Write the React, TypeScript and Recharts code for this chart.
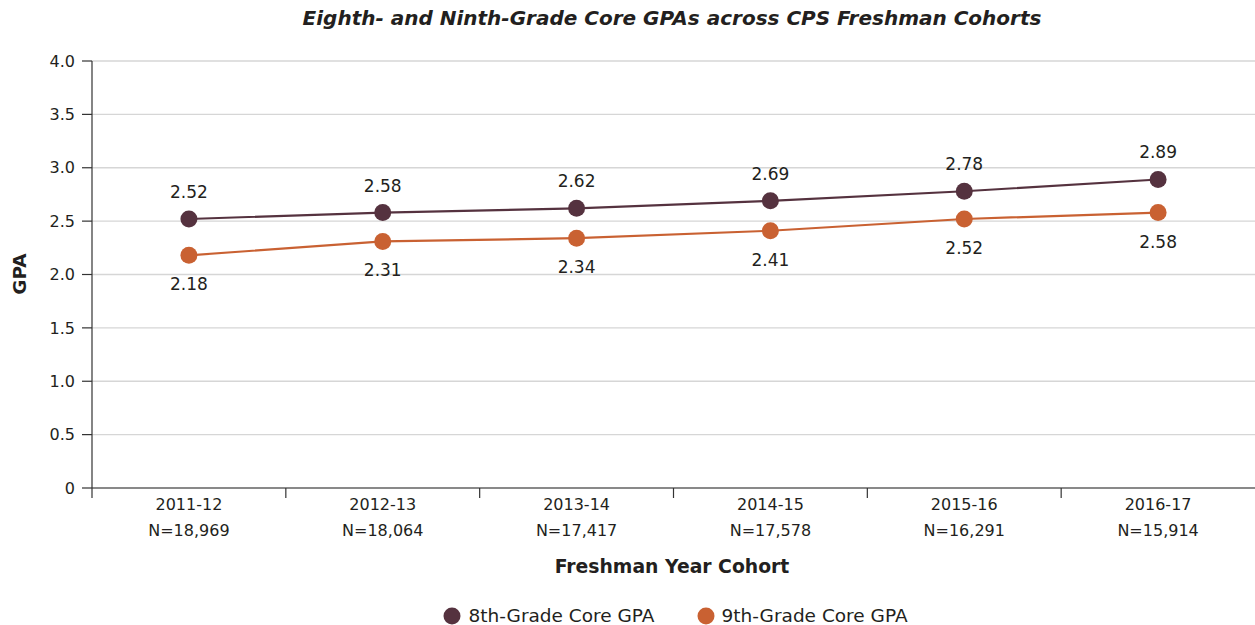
import { LineChart, Line, XAxis, YAxis, CartesianGrid, LabelList, Legend } from 'recharts';

const cohorts = ['2011-12', '2012-13', '2013-14', '2014-15', '2015-16', '2016-17'];
const cohortSizes = ['N=18,969', 'N=18,064', 'N=17,417', 'N=17,578', 'N=16,291', 'N=15,914'];
const eighthGpa = [2.52, 2.58, 2.62, 2.69, 2.78, 2.89];
const ninthGpa = [2.18, 2.31, 2.34, 2.41, 2.52, 2.58];
const yTicks = [0, 0.5, 1, 1.5, 2, 2.5, 3, 3.5, 4];

const W = 1255;
const H = 625;
const Y_AXIS_W = 92;
const FONT = '"DejaVu Sans", sans-serif';
const TEXT = '#231f20';
const MAROON = '#55323f';
const ORANGE = '#c96132';

const chartData = cohorts.map((cohort, i) => ({
  cohort,
  n: cohortSizes[i],
  eighth: eighthGpa[i],
  ninth: ninthGpa[i],
}));

const series = [
  { key: 'eighth', name: '8th-Grade Core GPA', color: MAROON },
  { key: 'ninth', name: '9th-Grade Core GPA', color: ORANGE },
];

// two-line category tick, with the tick mark drawn on the band's left edge
const CohortTick = ({ x, y, payload, index }: any) => {
  const band = (W - Y_AXIS_W) / cohorts.length;
  return (
    <g>
      <line x1={x - band / 2} x2={x - band / 2} y1={y - 8} y2={y + 2} stroke="#333" strokeWidth={1.2} />
      <text x={x} y={y + 14} textAnchor="middle" fontSize={16} fill={TEXT} fontFamily={FONT}>
        {payload.value}
      </text>
      <text x={x} y={y + 40} textAnchor="middle" fontSize={16} fill={TEXT} fontFamily={FONT}>
        {cohortSizes[index]}
      </text>
    </g>
  );
};

const LegendContent = () => (
  <div style={{ display: 'flex', justifyContent: 'center', gap: 42, fontFamily: FONT, fontSize: 18.5, color: TEXT, paddingTop: 17, paddingLeft: 96 }}>
    {series.map((s) => (
      <div key={s.key} style={{ display: 'flex', alignItems: 'center', gap: 7 }}>
        <svg width={18} height={18}>
          <circle cx={9} cy={9} r={8.5} fill={s.color} />
        </svg>
        <span>{s.name}</span>
      </div>
    ))}
  </div>
);

export default function App() {
  return (
    <div style={{ position: 'absolute', left: 0, top: 0, width: W, height: H, background: '#fff' }}>
      <LineChart width={W} height={H} data={chartData} margin={{ top: 61, right: 0, left: 0, bottom: 0 }}>
        <text x={672} y={25} textAnchor="middle" fontSize={20} fontWeight="bold" fontStyle="italic" fill={TEXT} fontFamily={FONT}>
          Eighth- and Ninth-Grade Core GPAs across CPS Freshman Cohorts
        </text>
        <text x={26} y={274} textAnchor="middle" fontSize={18.5} fontWeight="bold" fill={TEXT} fontFamily={FONT} transform="rotate(-90 26 274)">
          GPA
        </text>
        <text x={672} y={573} textAnchor="middle" fontSize={18.8} fontWeight="bold" fill={TEXT} fontFamily={FONT}>
          Freshman Year Cohort
        </text>
        <CartesianGrid vertical={false} stroke="#d6d6d6" strokeWidth={1.3} />
        <XAxis
          dataKey="cohort"
          scale="band"
          height={100}
          tickLine={false}
          axisLine={{ stroke: '#333', strokeWidth: 1.2 }}
          tick={<CohortTick />}
          interval={0}
        />
        <YAxis
          domain={[0, 4]}
          ticks={yTicks}
          width={Y_AXIS_W}
          tickSize={10}
          tickMargin={7}
          tickLine={{ stroke: '#333', strokeWidth: 1.2 }}
          axisLine={{ stroke: '#333', strokeWidth: 1.2 }}
          tick={{ fill: TEXT, fontSize: 16, fontFamily: FONT }}
          tickFormatter={(v: number) => (v === 0 ? '0' : v.toFixed(1))}
        />
        <Legend verticalAlign="bottom" height={37} content={<LegendContent />} />
        <Line
          type="linear"
          dataKey="eighth"
          name="8th-Grade Core GPA"
          stroke={MAROON}
          strokeWidth={2.2}
          dot={{ r: 8.5, fill: MAROON, stroke: 'none' }}
          activeDot={false}
          isAnimationActive={false}
        >
          <LabelList dataKey="eighth" position="top" offset={21} fill={TEXT} fontSize={17} fontFamily={FONT} formatter={(v: any) => Number(v).toFixed(2)} />
        </Line>
        <Line
          type="linear"
          dataKey="ninth"
          name="9th-Grade Core GPA"
          stroke={ORANGE}
          strokeWidth={2.2}
          dot={{ r: 8.5, fill: ORANGE, stroke: 'none' }}
          activeDot={false}
          isAnimationActive={false}
        >
          <LabelList dataKey="ninth" position="bottom" offset={23} fill={TEXT} fontSize={17} fontFamily={FONT} formatter={(v: any) => Number(v).toFixed(2)} />
        </Line>
      </LineChart>
    </div>
  );
}
